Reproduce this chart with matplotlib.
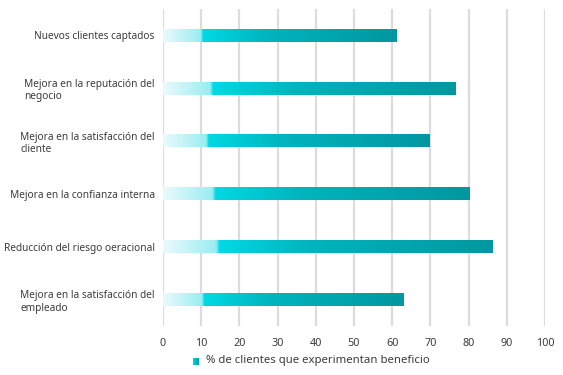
import matplotlib.pyplot as plt
import numpy as np
from matplotlib.colors import LinearSegmentedColormap

## Data
categories = ['Nuevos clientes captados',
              'Mejora en la reputación del\nnegocio',
              'Mejora en la satisfacción del\ncliente',
              'Mejora en la confianza interna',
              'Reducción del riesgo oeracional',
              'Mejora en la satisfacción del\nempleado']
values = [61.0, 76.7, 69.7, 80.3, 86.3, 63.0]
xticks = [0, 10, 20, 30, 40, 50, 60, 70, 80, 90, 100]
legend_label = '% de clientes que experimentan beneficio'

plt.rcParams['font.family'] = ['Noto Sans', 'DejaVu Sans']

## Gradient for the bars (light at the left, bright cyan, then teal)
cmap = LinearSegmentedColormap.from_list('bar', [
    (0.0, '#eafafc'), (0.16, '#9aedf2'), (0.17, '#00d9e4'),
    (0.45, '#00b4bd'), (1.0, '#0097a0')])
grad = np.linspace(0, 1, 256).reshape(1, -1)

fig = plt.figure(figsize=(5.63, 3.75), dpi=100)
ax = fig.add_axes([163 / 563, 1 - 326 / 375, 382 / 563, 317 / 375])

y = np.arange(len(categories))
bars = ax.barh(y, values, height=0.24, color='none', zorder=3)
for b in bars:
    x0, y0, w, h = b.get_x(), b.get_y(), b.get_width(), b.get_height()
    ax.imshow(grad, cmap=cmap, aspect='auto', extent=[x0, x0 + w, y0, y0 + h],
              interpolation='bilinear', zorder=3)

ax.set_xlim(0, 100)
ax.set_ylim(len(categories) - 0.5, -0.5)
ax.set_xticks(xticks)
ax.set_yticks(y)
ax.set_yticklabels(categories, ha='right', ma='left')
for s in ax.spines.values():
    s.set_visible(False)
ax.grid(axis='x', color='#dcdcdc', linewidth=1.6, zorder=0)
ax.tick_params(axis='y', length=0, pad=6, labelsize=7.3, labelcolor='#3c3c3c')
ax.tick_params(axis='x', length=0, pad=9, labelsize=7.8, labelcolor='#3c3c3c')
ax.set_axisbelow(True)

## Legend
lax = fig.add_axes([193 / 563, 1 - 365 / 375, 6 / 563, 7 / 375])
lax.imshow(grad, cmap=LinearSegmentedColormap.from_list('leg', ['#00d9e4', '#0097a0']),
           aspect='auto')
lax.axis('off')
fig.text(206 / 563, 1 - 361 / 375, legend_label, fontsize=8.2, color='#3c3c3c',
         va='center', ha='left')

fig.savefig('out.png', dpi=100)
